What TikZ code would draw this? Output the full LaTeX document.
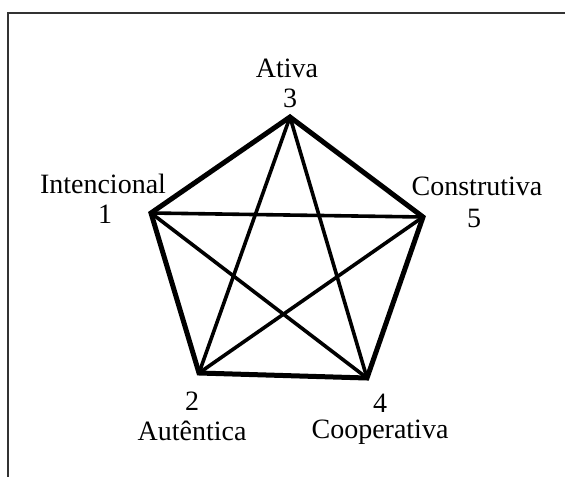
\documentclass[tikz,border=0pt]{standalone}
\usepackage{fontspec}
\setmainfont{Liberation Serif}
\usepackage{tikz}

\begin{document}
\begin{tikzpicture}[
    x=1pt, y=-1pt,
    % Define simple, standard styles
    outer/.style={line width=5pt, draw=black, line join=miter},
    inner/.style={line width=3.6pt, draw=black},
    frame/.style={line width=1.5pt, draw=black!80},
    lbl/.style={anchor=base, inner sep=0pt, font=\fontsize{28}{30}\selectfont}
]
\useasboundingbox (0,0) rectangle (565,477);

% 1. Frame lines at top and left
\draw[frame] (565,13) -- (8,13) -- (8,477);

% 2. The five corners
\coordinate (v1) at (151,213);
\coordinate (v2) at (199,373);
\coordinate (v3) at (290,117);
\coordinate (v4) at (367,378);
\coordinate (v5) at (423,217);

% 3. Outer pentagon and inner star
\draw[outer] (v3) -- (v5) -- (v4) -- (v2) -- (v1) -- cycle;
\foreach \a/\b in {v3/v2, v3/v4, v1/v5, v1/v4, v2/v5}
    \draw[inner] (\a) -- (\b);

% 4. Labels
\node[lbl] (name3) at (287,77) {Ativa};
\node[lbl] (num3) at (290,107) {3};
\node[lbl] (name1) at (103,193) {Intencional};
\node[lbl] (num1) at (105,223) {1};
\node[lbl] (name5) at (477,195) {Construtiva};
\node[lbl] (num5) at (474,227) {5};
\node[lbl] (num2) at (192,410) {2};
\node[lbl] (name2) at (192,440) {Autêntica};
\node[lbl] (num4) at (380,412) {4};
\node[lbl] (name4) at (380,438) {Cooperativa};

\end{tikzpicture}
\end{document}
